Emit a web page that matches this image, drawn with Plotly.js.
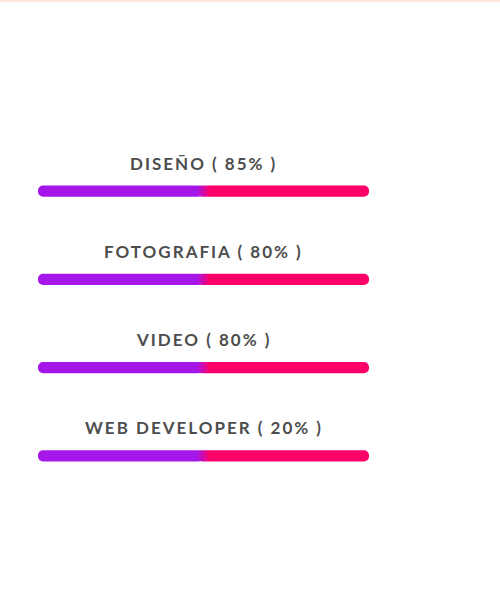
<!DOCTYPE html>
<html>
<head>
<meta charset="utf-8">
<script src="https://cdn.plot.ly/plotly-3.0.1.min.js"></script>
<style>
html,body{margin:0;padding:0;background:#fff;}
#chart{width:500px;height:596px;}
#chart .annotation-text{letter-spacing:2px;}
#chart .barlayer .trace:nth-child(2) path{fill:url(#seamGrad) !important;}
</style>
</head>
<body>
<svg width="0" height="0" style="position:absolute;left:0;top:0">
  <defs>
    <linearGradient id="seamGrad" x1="0" y1="0" x2="1" y2="0">
      <stop offset="0" stop-color="#a516e9"/>
      <stop offset="0.075" stop-color="#ff0068"/>
      <stop offset="1" stop-color="#ff0068"/>
    </linearGradient>
  </defs>
</svg>
<div id="chart"></div>
<script>
// Data
const skills = ["DISEÑO", "FOTOGRAFIA", "VIDEO", "WEB DEVELOPER"];
const percents = [85, 80, 80, 20];
const trackLength = [100, 100, 100, 100];

const W = 500, H = 596;
const margin = {l: 38, r: 131, t: 147, b: 96, pad: 0};
const plotH = H - margin.t - margin.b;
const seamOverlap = 2; // style: how far the pink half reaches under the purple half

const half = trackLength.map(v => v / 2);

const purple = {
  type: "bar", orientation: "h",
  y: skills, x: half.map(v => -v), base: half,
  width: 0.125,
  marker: {color: "#a516e9", cornerradius: "50%", line: {width: 0}},
  hoverinfo: "skip", showlegend: false
};
const pink = {
  type: "bar", orientation: "h",
  y: skills, x: half.map(v => v + seamOverlap), base: half.map(v => v - seamOverlap),
  width: 0.125,
  marker: {color: "#ff0068", cornerradius: "50%", line: {width: 0}},
  hoverinfo: "skip", showlegend: false
};

const annotations = skills.map((s, i) => ({
  x: half[i], y: s, xref: "x", yref: "y",
  text: s + " ( " + percents[i] + "% )",
  showarrow: false, yshift: 28,
  xanchor: "center", yanchor: "middle",
  font: {family: "Lato, 'Open Sans', sans-serif", size: 17, color: "#4d4d4d", weight: 700}
}));

const layout = {
  width: W, height: H, margin: margin,
  paper_bgcolor: "#ffffff", plot_bgcolor: "#ffffff",
  barmode: "overlay",
  xaxis: {range: [0, 100], visible: false, fixedrange: true},
  yaxis: {type: "category", categoryorder: "array", categoryarray: skills,
          range: [3.5, -0.5], visible: false, fixedrange: true},
  annotations: annotations,
  shapes: [{type: "line", xref: "paper", yref: "paper",
            x0: -margin.l / (W - margin.l - margin.r), x1: (W - margin.l) / (W - margin.l - margin.r),
            y0: 1 + (margin.t - 1) / plotH, y1: 1 + (margin.t - 1) / plotH,
            line: {color: "#fde6d8", width: 2}}]
};

Plotly.newPlot("chart", [purple, pink], layout, {displayModeBar: false, staticPlot: true});
</script>
</body>
</html>
